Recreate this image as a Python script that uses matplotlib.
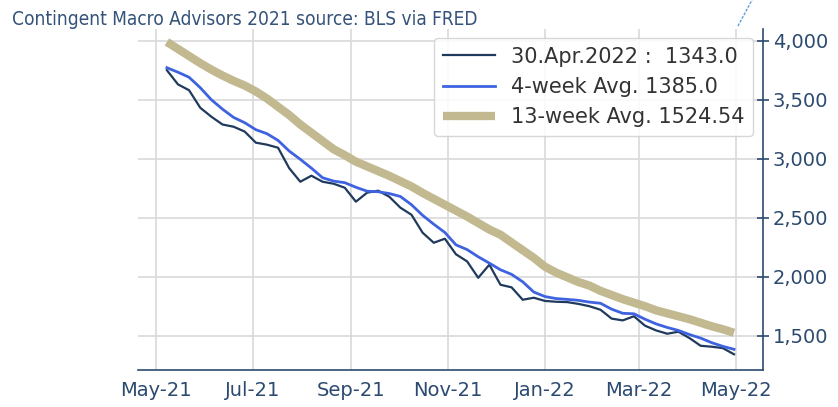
import numpy as np
import pandas as pd
import matplotlib
matplotlib.use('Agg')
import matplotlib.pyplot as plt
import matplotlib.dates as mdates
from matplotlib.lines import Line2D

# weekly values (thousands), week ending Saturday
START = '2021-05-08'
END = '2022-04-30'
actual = [3750, 3630, 3580, 3432, 3356, 3290, 3271, 3230, 3136, 3119,
          3093, 2920, 2805, 2856, 2805, 2788, 2754, 2636, 2712, 2729,
          2678, 2585, 2525, 2373, 2288, 2322, 2190, 2130, 1991, 2102,
          1932, 1910, 1805, 1822, 1795, 1788, 1785, 1770, 1750, 1720,
          1645, 1630, 1665, 1585, 1545, 1517, 1534, 1480, 1415, 1407,
          1395, 1343]
avg4 = [3771, 3733, 3690, 3602, 3500, 3420, 3350, 3305, 3246, 3212,
        3155, 3065, 2995, 2920, 2839, 2810, 2797, 2758, 2725, 2720,
        2705, 2680, 2610, 2520, 2445, 2375, 2270, 2230, 2169, 2115,
        2059, 2020, 1957, 1870, 1832, 1815, 1808, 1800, 1785, 1775,
        1725, 1690, 1686, 1640, 1600, 1570, 1545, 1510, 1480, 1441,
        1410, 1385]
avg13 = [3990, 3930, 3870, 3810, 3755, 3705, 3660, 3620, 3570, 3510,
         3440, 3370, 3290, 3220, 3150, 3080, 3030, 2975, 2935, 2895,
         2855, 2810, 2765, 2710, 2660, 2610, 2560, 2510, 2455, 2400,
         2356, 2290, 2225, 2160, 2085, 2035, 1995, 1955, 1925, 1880,
         1845, 1810, 1780, 1750, 1715, 1690, 1665, 1640, 1610, 1580,
         1555, 1525]
labels = ['30.Apr.2022 :  1343.0', '4-week Avg. 1385.0', '13-week Avg. 1524.54']
yticks = [1500, 2000, 2500, 3000, 3500, 4000]

dates = pd.date_range(START, END, freq='7D')

NAVY = '#2c4a70'
fig = plt.figure(figsize=(8.38, 4.07), dpi=100)
ax = fig.add_axes([0.165, 0.091, 0.745, 0.838])

ax.plot(dates, avg13, color='#c2b991', linewidth=6, solid_capstyle='butt', label=labels[2], zorder=2)
ax.plot(dates, actual, color='#1f3a5c', linewidth=1.6, label=labels[0], zorder=3)
ax.plot(dates, avg4, color='#3f63e0', linewidth=2, label=labels[1], zorder=4)

ax.set_xlim(pd.Timestamp('2021-04-20'), pd.Timestamp('2022-05-18'))
ax.set_ylim(1210, 4100)
ax.xaxis.set_major_locator(mdates.MonthLocator(bymonth=[1, 3, 5, 7, 9, 11]))
ax.xaxis.set_major_formatter(mdates.DateFormatter('%b-%y'))
ax.set_yticks(yticks)
ax.yaxis.set_major_formatter(matplotlib.ticker.FuncFormatter(lambda v, p: f'{int(v):,}'))
ax.yaxis.tick_right()

ax.grid(True, color='#d9d9d9', linewidth=1.2)
ax.set_axisbelow(True)
for s in ['top', 'left']:
    ax.spines[s].set_visible(False)
for s in ['right', 'bottom']:
    ax.spines[s].set_color(NAVY)
    ax.spines[s].set_linewidth(1.2)
ax.tick_params(axis='x', length=0, pad=8, labelsize=14, labelcolor=NAVY)
ax.tick_params(axis='y', direction='inout', length=9, width=1.2, color=NAVY,
               pad=3, labelsize=14, labelcolor=NAVY)

handles, hl = ax.get_legend_handles_labels()
order = [1, 2, 0]
leg = ax.legend([handles[i] for i in order], [hl[i] for i in order], loc='upper right',
                fontsize=15, framealpha=0.85, edgecolor='#d0d0d0', handlelength=2.5,
                borderaxespad=0.45)
for t in leg.get_texts():
    t.set_color('#333333')

fig.text(0.014, 0.953, 'Contingent Macro Advisors 2021 source: BLS via FRED',
         fontsize=13.7, color='#34527a', va='center', ha='left', fontstretch='condensed')

# stray dashed line at top right
fig.add_artist(Line2D([738 / 838, 752 / 838], [1 - 26 / 407, 1.0], transform=fig.transFigure,
                      color='#5a9fe0', linewidth=1, linestyle=(0, (2, 1))))

fig.savefig('out.png', dpi=100)
